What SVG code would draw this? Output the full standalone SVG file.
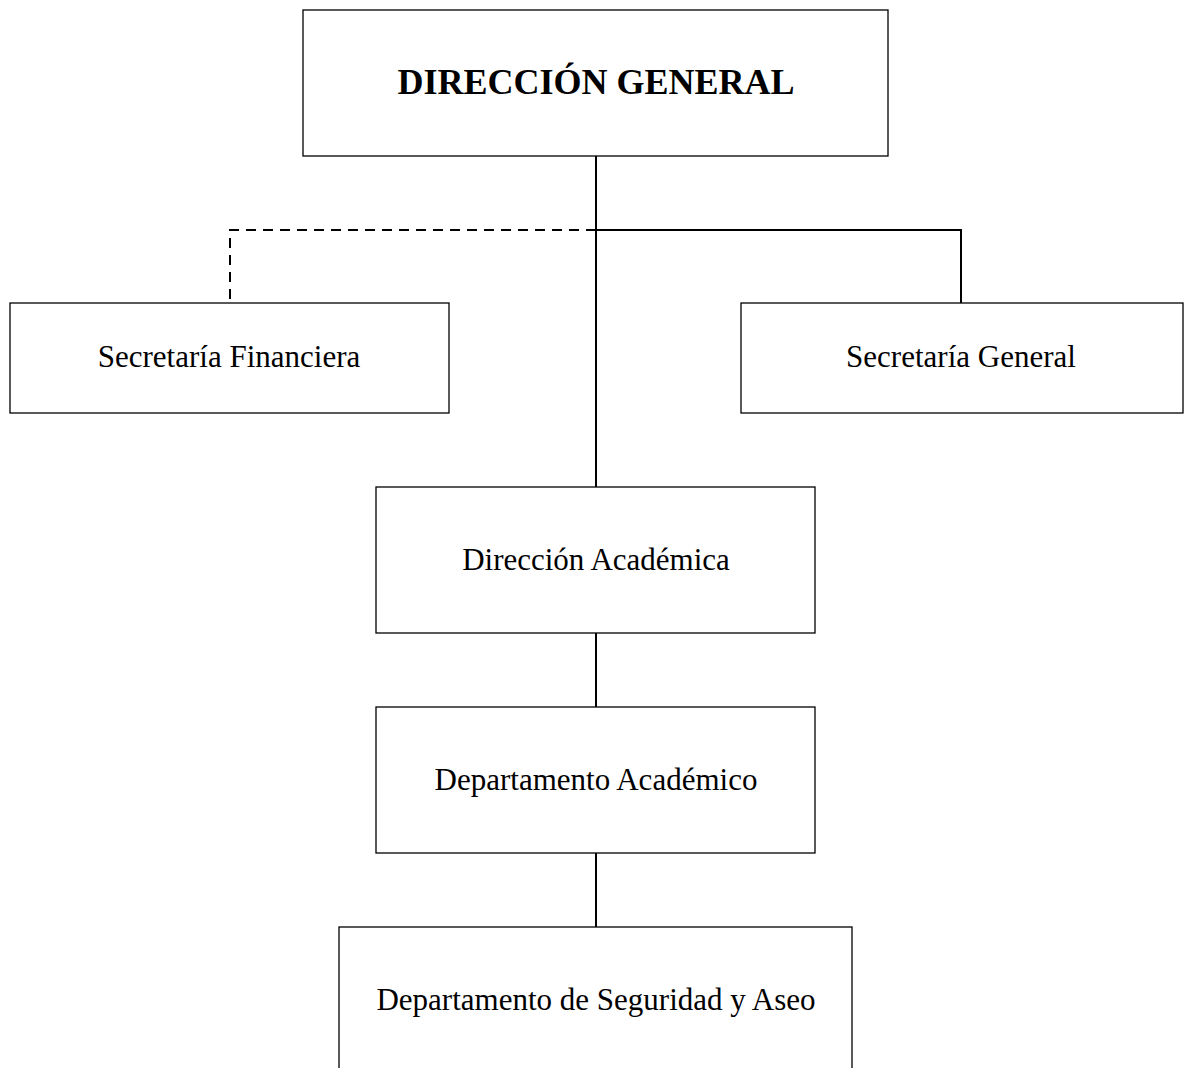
<svg xmlns="http://www.w3.org/2000/svg" width="1184" height="1068" viewBox="0 0 1184 1068">
<style>
.box{fill:#fff;stroke:#000;stroke-width:1.3}
.t{font-family:"Liberation Serif","Times New Roman",serif;font-size:31px;text-anchor:middle;fill:#000}
.tb{font-family:"Liberation Serif","Times New Roman",serif;font-size:36px;font-weight:bold;text-anchor:middle;fill:#000}
.ln{fill:none;stroke:#000;stroke-width:2}
.dash{fill:none;stroke:#000;stroke-width:2;stroke-dasharray:10 7}
</style>
<rect width="1184" height="1068" fill="#fff"/>
<g id="connectors">
<line class="ln" x1="596" y1="156" x2="596" y2="487"/>
<polyline class="ln" points="596,230 961,230 961,303"/>
<polyline class="dash" points="596,230 230,230 230,303"/>
<line class="ln" x1="596" y1="633" x2="596" y2="707"/>
<line class="ln" x1="596" y1="853" x2="596" y2="927"/>
</g>
<g id="direccion-general">
<rect class="box" x="303" y="10" width="585" height="146"/>
<text class="tb" x="596" y="94">DIRECCIÓN GENERAL</text>
</g>
<g id="secretaria-financiera">
<rect class="box" x="10" y="303" width="439" height="110"/>
<text class="t" x="229" y="367">Secretaría Financiera</text>
</g>
<g id="secretaria-general">
<rect class="box" x="741" y="303" width="442" height="110"/>
<text class="t" x="961" y="367">Secretaría General</text>
</g>
<g id="direccion-academica">
<rect class="box" x="376" y="487" width="439" height="146"/>
<text class="t" x="596" y="570">Dirección Académica</text>
</g>
<g id="departamento-academico">
<rect class="box" x="376" y="707" width="439" height="146"/>
<text class="t" x="596" y="790">Departamento Académico</text>
</g>
<g id="departamento-seguridad">
<rect class="box" x="339" y="927" width="513" height="160"/>
<text class="t" x="596" y="1010">Departamento de Seguridad y Aseo</text>
</g>
</svg>
